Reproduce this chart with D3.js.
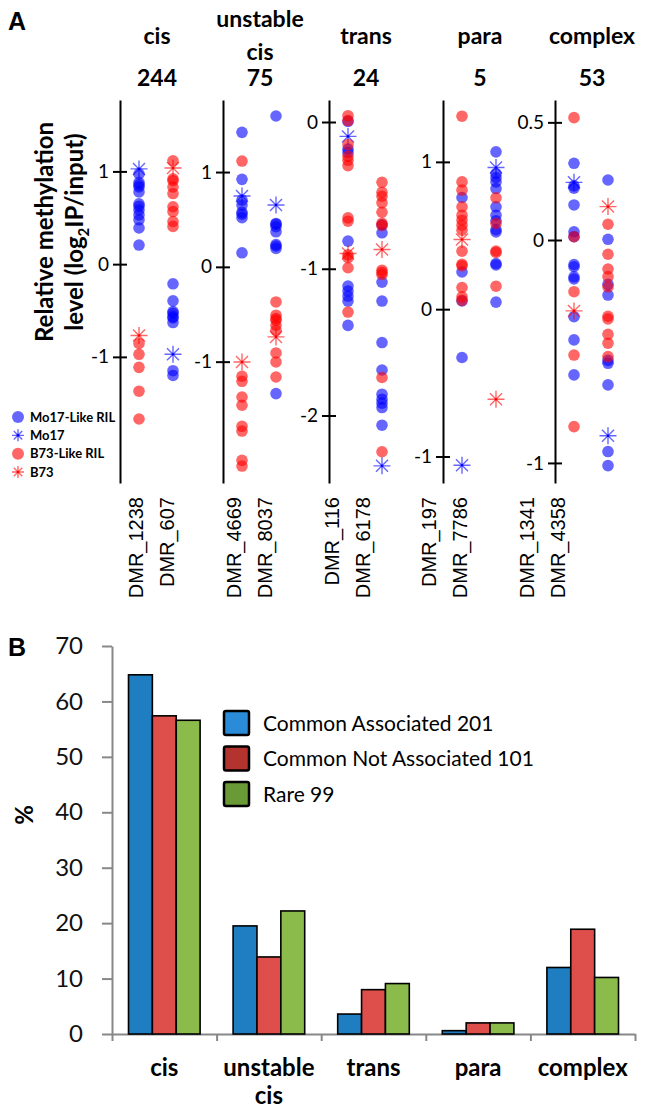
<!DOCTYPE html>
<html>
<head>
<meta charset="utf-8">
<script src="https://cdn.jsdelivr.net/npm/d3@7"></script>
<style>
  body { margin: 0; background: #fff; }
  svg { display: block; font-family: Lato, 'Open Sans', sans-serif; }
</style>
</head>
<body>
<svg id="chart" width="646" height="1110"></svg>
<script>
// ---------- Panel A data ----------
const classNames = ['cis', 'unstable cis', 'trans', 'para', 'complex'];
const classCounts = [244, 75, 24, 5, 53];
const dmrNames = [
  ['DMR_1238', 'DMR_607'],
  ['DMR_4669', 'DMR_8037'],
  ['DMR_116', 'DMR_6178'],
  ['DMR_197', 'DMR_7786'],
  ['DMR_1341', 'DMR_4358']
];
const yDomains = [[-2.36, 1.77], [-2.28, 1.76], [-2.46, 0.15], [-1.18, 1.42], [-1.09, 0, 0.595]];
const yTicks = [[1, 0, -1], [1, 0, -1], [0, -1, -2], [1, 0, -1], [0.5, 0, -1]];

// RIL values per DMR, in the order of dmrNames (flattened)
const mo17LikeRIL = [
  [0.973, 0.88, 0.855, 0.832, 0.779, 0.65, 0.625, 0.584, 0.531, 0.478, 0.39, 0.206],
  [-0.212, -0.396, -0.512, -0.53, -0.566, -0.58, -0.63, -1.149, -1.2],
  [1.419, 0.923, 0.704, 0.652, 0.575, 0.555, 0.518, 0.148],
  [1.591, 0.458, 0.45, 0.423, 0.37, 0.235, 0.22, 0.194, -1.337],
  [0.004, -0.184, -0.207, -0.812, -1.118, -1.152, -1.186, -1.22, -1.386],
  [-0.70, -0.755, -1.091, -1.22, -1.503, -1.69, -1.855, -1.889, -1.916, -1.946, -2.066],
  [0.758, 0.253, 0.056, -0.328],
  [1.068, 0.921, 0.894, 0.864, 0.819, 0.695, 0.638, 0.6, 0.54, 0.525, 0.31, 0.3, 0.048],
  [0.326, 0.23, 0.22, 0.149, 0.035, 0.014, -0.11, -0.12, -0.165, -0.175, -0.344, -0.448, -0.605],
  [0.255, 0.003, -0.199, -0.247, -0.54, -0.553, -0.65, -0.949, -1.012]
];
const b73LikeRIL = [
  [-0.855, -0.972, -1.113, -1.37, -1.67],
  [1.115, 0.92, 0.9, 0.832, 0.761, 0.619, 0.567, 0.46, 0.407],
  [1.116, -1.154, -1.207, -1.373, -1.46, -1.682, -1.732, -2.041, -2.101],
  [-0.37, -0.51, -0.545, -0.563, -0.616, -0.669, -0.908, -1.003, -1.162],
  [0.043, 0.01, -0.154, -0.234, -0.261, -0.297, -0.653, -0.676, -0.905, -0.925, -0.993, -1.295],
  [-0.411, -0.479, -0.506, -0.551, -0.615, -0.69, -0.705, -1.01, -1.025, -1.039, -1.741, -2.247],
  [1.31, 0.864, 0.808, 0.695, 0.638, 0.604, 0.57, 0.536, 0.394, 0.305, 0.295, 0.147, 0.084, 0.06],
  [0.756, 0.582, 0.395, 0.385, 0.156],
  [0.52, 0.014, -0.232, -0.516, -0.837],
  [0.067, -0.064, -0.13, -0.164, -0.21, -0.342, -0.354, -0.423, -0.463, -0.523]
];
const mo17Parent = [1.027, -0.972, 0.747, 0.652, -0.098, -2.343, -1.06, 0.962, 0.245, -0.878];
const b73Parent = [-0.77, 1.037, -1.003, -0.739, -0.896, -0.869, 0.473, -0.611, -0.318, 0.142];

const legendA = ['Mo17-Like RIL', 'Mo17', 'B73-Like RIL', 'B73'];

// ---------- Panel B data ----------
const categories = ['cis', 'unstable cis', 'trans', 'para', 'complex'];
const seriesNames = ['Common Associated 201', 'Common Not Associated 101', 'Rare 99'];
const commonAssociated = [64.8, 19.5, 3.6, 0.6, 12.0];
const commonNotAssociated = [57.4, 13.9, 8.0, 2.0, 18.9];
const rare = [56.6, 22.2, 9.1, 2.0, 10.2];
const pctTicks = [0, 10, 20, 30, 40, 50, 60, 70];

// ---------- layout ----------
const svg = d3.select('#chart');
const panelAxisX = [120, 223, 329, 443, 555];
const yRanges = [[483, 100], [483, 100], [483, 100], [483, 100], [483, 240, 100]];
const colX = d3.scaleOrdinal().domain([0, 1]).range([19, 53]);
const blue = 'rgb(0,0,255)', red = 'rgb(255,0,0)';
const dotR = 5.8;

function asteriskPath(r) {
  const d = r * Math.SQRT1_2;
  return `M0,${-r}V${r}M${-r},0H${r}M${-d},${-d}L${d},${d}M${-d},${d}L${d},${-d}`;
}

function drawAsterisk(sel, x, y, color, r) {
  const g = sel.append('g').attr('transform', `translate(${x},${y})`);
  g.append('path')
    .attr('d', asteriskPath(r))
    .style('stroke', color)
    .style('stroke-opacity', 0.6)
    .style('stroke-width', 1.4)
    .style('fill', 'none');
  g.append('circle').attr('r', 1.3).style('fill', color);
}

svg.append('text').text('A')
  .attr('x', 8).attr('y', 30)
  .style('font-family', "'Liberation Sans', Arial, sans-serif")
  .style('font-weight', 'bold').style('font-size', '25px');

classNames.forEach((name, i) => {
  const g = svg.append('g')
    .attr('class', 'g_panel g_panel_' + i)
    .attr('transform', 'translate(' + panelAxisX[i] + ',0)');

  const y = d3.scaleLinear().domain(yDomains[i]).range(yRanges[i]);

  const yAxis = d3.axisLeft(y)
    .tickValues(yTicks[i])
    .tickSize(7)
    .tickSizeOuter(0)
    .tickPadding(4)
    .tickFormat(d => String(d));

  const ax = g.append('g').attr('class', 'g_y_axis').call(yAxis);
  ax.select('.domain').style('stroke', '#000').style('stroke-width', 2);
  ax.selectAll('.tick line').attr('x1', 7).style('stroke', '#000').style('stroke-width', 2);
  ax.selectAll('.tick text')
    .style('font-family', 'Lato, sans-serif')
    .style('font-size', '19px')
    .style('fill', '#000');

  // header
  const hx = 37;
  const words = name === 'unstable cis' ? ['unstable', 'cis'] : [name];
  const hy = words.length === 2 ? [27, 60] : [44];
  words.forEach((w, wi) => {
    g.append('text').text(w)
      .attr('x', hx).attr('y', hy[wi])
      .attr('text-anchor', 'middle')
      .style('font-weight', 'bold').style('font-size', '23px');
  });
  g.append('text').text(classCounts[i])
    .attr('x', hx).attr('y', 86)
    .attr('text-anchor', 'middle')
    .style('font-weight', 'bold').style('font-size', '23px');

  // dots, per DMR column
  [0, 1].forEach(j => {
    const k = i * 2 + j;
    const cx = colX(j);
    const col = g.append('g').attr('class', 'g_dmr g_dmr_' + dmrNames[i][j]);

    col.selectAll('.dot_mo17like')
      .data(mo17LikeRIL[k])
      .enter()
      .append('circle')
      .attr('class', 'dot_mo17like')
      .attr('cx', cx)
      .attr('cy', d => y(d))
      .attr('r', dotR)
      .style('fill', blue)
      .style('fill-opacity', 0.6);

    drawAsterisk(col, cx, y(mo17Parent[k]), blue, 8.5);

    col.selectAll('.dot_b73like')
      .data(b73LikeRIL[k])
      .enter()
      .append('circle')
      .attr('class', 'dot_b73like')
      .attr('cx', cx)
      .attr('cy', d => y(d))
      .attr('r', dotR)
      .style('fill', red)
      .style('fill-opacity', 0.6);

    drawAsterisk(col, cx, y(b73Parent[k]), red, 8.5);
  });
});

// y title for panel A
const yTitle = svg.append('g').attr('class', 'g_y_title');
yTitle.append('text')
  .attr('transform', 'translate(53,232) rotate(-90)')
  .attr('text-anchor', 'middle')
  .style('font-weight', 'bold').style('font-size', '24px')
  .text('Relative methylation');
const t2 = yTitle.append('text')
  .attr('transform', 'translate(83,232) rotate(-90)')
  .attr('text-anchor', 'middle')
  .style('font-weight', 'bold').style('font-size', '24px');
t2.append('tspan').text('level (log');
t2.append('tspan').text('2').attr('dy', 6).style('font-size', '15px');
t2.append('tspan').text('IP/input)').attr('dy', -6);

// DMR labels under panel A
const labelCenter = d3.scaleLinear().domain([0, 4]).range([150.5, 541.5]);
dmrNames.forEach((pair, i) => {
  pair.forEach((lab, j) => {
    const x = labelCenter(i) + (j === 0 ? -15.5 : 15.5) + 8;
    svg.append('text').text(lab)
      .attr('transform', 'translate(' + x + ',497) rotate(-90)')
      .attr('text-anchor', 'end')
      .style('font-family', "'Liberation Sans', Arial, sans-serif")
      .style('font-size', '20px');
  });
});

// legend panel A
const legA = svg.append('g').attr('class', 'g_legend_a');
const legAy = d3.scalePoint().domain(legendA).range([417, 472]);
legendA.forEach((lab, i) => {
  const color = i < 2 ? blue : red;
  const ly = legAy(lab);
  if (i % 2 === 0) {
    legA.append('circle').attr('cx', 18).attr('cy', ly).attr('r', 6)
      .style('fill', color).style('fill-opacity', 0.6);
  } else {
    drawAsterisk(legA, 18, ly, color, 6);
  }
  legA.append('text').text(lab)
    .attr('x', 30).attr('y', ly + 4.5)
    .style('font-weight', 'bold').style('font-size', '13px');
});

// ---------- Panel B ----------
const bLeft = 112, bRight = 635, bTop = 646, bBottom = 1034;
const gB = svg.append('g').attr('class', 'g_panel_b');

svg.append('text').text('B')
  .attr('x', 8).attr('y', 656)
  .style('font-family', "'Liberation Sans', Arial, sans-serif")
  .style('font-weight', 'bold').style('font-size', '25px');

const yB = d3.scaleLinear().domain([0, 70]).range([bBottom, bTop]);
const xB = d3.scaleBand().domain(categories).range([bLeft, bRight]);
const xSub = d3.scaleBand().domain(seriesNames).range([16.5, xB.bandwidth() - 16.5]);
const barColors = d3.scaleOrdinal().domain(seriesNames).range(['#1f7ec1', '#de4f4b', '#8bbb4b']);
const legendColors = d3.scaleOrdinal().domain(seriesNames).range(['#2a8bd8', '#b3332f', '#6a9a36']);
const seriesValues = [commonAssociated, commonNotAssociated, rare];

const yAxisB = gB.append('g')
  .attr('transform', 'translate(' + bLeft + ',0)')
  .call(d3.axisLeft(yB).tickValues(pctTicks).tickSize(10).tickSizeOuter(0).tickPadding(19));
yAxisB.select('.domain').style('stroke', '#888').style('stroke-width', 2);
yAxisB.selectAll('.tick line').style('stroke', '#888').style('stroke-width', 2);
yAxisB.selectAll('.tick text')
  .style('font-family', 'Lato, sans-serif')
  .style('font-size', '24px')
  .style('fill', '#111');

const xEdge = d3.scaleLinear().domain([0, categories.length]).range([bLeft, bRight]);
const xAxisB = gB.append('g')
  .attr('transform', 'translate(0,' + bBottom + ')')
  .call(d3.axisBottom(xEdge).tickValues(d3.range(categories.length + 1)).tickSize(7).tickSizeOuter(0).tickFormat(''));
xAxisB.select('.domain').style('stroke', '#888').style('stroke-width', 2);
xAxisB.selectAll('.tick line').style('stroke', '#888').style('stroke-width', 2);

seriesNames.forEach((s, si) => {
  gB.selectAll('.bar_' + si)
    .data(seriesValues[si])
    .enter()
    .append('rect')
    .attr('class', 'bar_' + si)
    .attr('x', (d, ci) => xB(categories[ci]) + xSub(s))
    .attr('y', d => yB(d))
    .attr('width', xSub.bandwidth())
    .attr('height', d => bBottom - yB(d))
    .style('fill', barColors(s))
    .style('stroke', '#000')
    .style('stroke-width', 1.6);
});

categories.forEach(c => {
  const words = c === 'unstable cis' ? ['unstable', 'cis'] : [c];
  words.forEach((w, wi) => {
    gB.append('text').text(w)
      .attr('x', xB(c) + xB.bandwidth() / 2)
      .attr('y', 1076 + wi * 28)
      .attr('text-anchor', 'middle')
      .style('font-weight', 'bold').style('font-size', '24px');
  });
});

gB.append('text').text('%')
  .attr('transform', 'translate(33,815) rotate(-90)')
  .attr('text-anchor', 'middle')
  .style('font-weight', 'bold').style('font-size', '24px');

const legB = gB.append('g').attr('class', 'g_legend_b');
const legBy = d3.scalePoint().domain(seriesNames).range([711, 782]);
seriesNames.forEach(s => {
  legB.append('rect')
    .attr('x', 224).attr('y', legBy(s))
    .attr('width', 25).attr('height', 24)
    .attr('rx', 2)
    .style('fill', legendColors(s))
    .style('stroke', '#000')
    .style('stroke-width', 2.5);
  legB.append('text').text(s)
    .attr('x', 263).attr('y', legBy(s) + 19.5)
    .style('font-size', '21px');
});
</script>
</body>
</html>
